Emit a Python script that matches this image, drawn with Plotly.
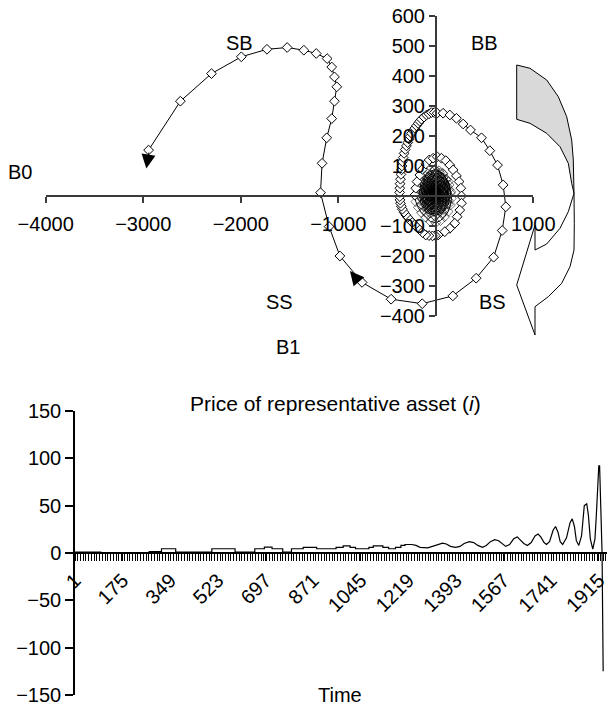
import plotly.graph_objects as go

W, H = 609, 706

# ---------------- phase trajectory: B0 (horizontal) vs B1 (vertical) ----------------
# inner spiral loops (dense core), then the widening loops and the final excursion
B0 = [
    -10, -4, 0, 2, 0, -4, -10, -16, -20, -22, -20, -16,
    -6, 5, 13, 14, 8, -2, -14, -25, -33, -34, -28, -18,
    2, 18, 25, 24, 13, -4, -22, -38, -45, -44, -33, -16,
    -10, 15, 33, 39, 33, 15, -10, -35, -53, -59, -53, -35,
    0, 29, 47, 50, 37, 11, -20, -49, -67, -70, -57, -31,
    15, 46, 62, 59, 37, 2, -35, -66, -82, -79, -57, -22,
    -10, 33, 65, 76, 65, 33, -10, -53, -85, -96, -85, -53,
    7, 53, 82, 86, 65, 23, -27, -73, -102, -106, -85, -43,
    27, 75, 98, 93, 60, 9, -47, -95, -118, -113, -80, -29,
    -10, 52, 97, 113, 97, 52, -10, -72, -117, -133, -117, -72,
    13, 76, 117, 122, 94, 36, -33, -96, -137, -142, -114, -56,
    40, 103, 134, 128, 84, 15, -60, -123, -154, -148, -104, -35,
    -10, 70, 129, 150, 129, 70, -10, -90, -149, -170, -149, -90,
    -10, 34, 75, 109, 137, 154, 161, 151, 127, 92, 48, 0, -55, -103, -147, -181, -205,
    -215, -205, -192, -164, -137, -103, -68, -27, 14, 58, 103, 144, 178, 212, 239, 257,
    264, 264, 246, 219, 195, 144, 92, 24,
    -5, -34, -70, -103, -135, -164, -190, -215, -241, -267, -288, -308, -326, -342,
    -353, -362, -367, -369, -371, -369, -366, -362, -357, -352, -347, -342, -334, -325,
    -313, -301, -288, -274, -262, -249, -232, -215, -198, -181, -164, -147, -121, -95,
    -70, -44, -15, 14, 75, 144, 212, 281, 356, 469, 554,
    633, 691, 718, 681, 593, 414, 175, -139, -458, -756, -983, -1094, -1182, -1166,
    -1118, -1067, -1039, -1015, -1039, -1067, -1114, -1226, -1353, -1524, -1731, -1994,
    -2300, -2619, -2945,
]
B1 = [
    18, 17, 14, 10, 6, 3, 2, 3, 6, 10, 14, 17,
    24, 21, 15, 8, 1, -3, -4, -1, 5, 12, 19, 23,
    29, 23, 13, 3, -5, -10, -9, -3, 7, 17, 25, 30,
    35, 32, 22, 10, -2, -12, -15, -12, -2, 10, 22, 32,
    40, 34, 21, 5, -10, -19, -20, -14, -1, 15, 30, 39,
    45, 34, 16, -3, -19, -26, -25, -14, 4, 23, 38, 46,
    52, 46, 31, 10, -11, -26, -32, -26, -11, 10, 31, 46,
    57, 47, 26, 2, -21, -35, -37, -27, -6, 18, 41, 55,
    61, 45, 19, -8, -32, -43, -41, -25, 1, 28, 52, 63,
    69, 61, 40, 10, -20, -41, -49, -41, -20, 10, 40, 61,
    74, 60, 32, -1, -32, -51, -54, -40, -12, 21, 52, 71,
    77, 55, 22, -14, -45, -60, -57, -35, -2, 34, 65, 80,
    86, 76, 48, 10, -28, -56, -66, -56, -28, 10, 48, 76,
    89, 84, 73, 56, 37, 14, -8, -30, -52, -69, -82, -89, -85, -71, -56, -38, -19,
    3, 26, 48, 70, 89, 107, 120, 126, 131, 126, 118, 103, 87, 67, 48, 26,
    0, -24, -47, -69, -91, -108, -119, -130,
    -132, -133, -132, -130, -122, -113, -105, -97, -88, -80, -71, -63, -54, -44,
    -34, -24, -13, -2, 12, 26, 41, 56, 72, 87, 100, 114, 128, 142,
    155, 167, 178, 189, 199, 209, 218, 226, 234, 242, 249, 256, 263, 270,
    274, 278, 278, 276, 276, 270, 259, 240, 220, 194, 151,
    103, 37, -36, -115, -204, -274, -333, -359, -344, -288, -200, -102, 11, 109,
    194, 258, 316, 364, 397, 430, 458, 475, 486, 495, 489, 464,
    408, 316, 153,
]
CORE_POINTS = 173  # the tightly wound first loops, drawn as overlapping outlines

B0_TICKS = [-4000, -3000, -2000, -1000, 1000]
B1_TICKS = [-400, -300, -200, -100, 100, 200, 300, 400, 500, 600]

# ---------------- price of representative asset ----------------
TIME = [
    1, 95, 95, 272, 272, 317, 317, 369, 369, 501, 501, 586, 586, 658, 658, 693, 693,
    721, 721, 760, 760, 792, 792, 835, 835, 884, 884, 955, 955, 981, 981, 1006, 1006,
    1026, 1026, 1075, 1075, 1091, 1091, 1126, 1126, 1147, 1147, 1172, 1172, 1192, 1192,
    1207, 1207, 1232, 1247, 1262, 1290, 1308, 1328, 1344, 1358, 1373, 1391, 1408, 1423,
    1442, 1458, 1473, 1490, 1504, 1519, 1535, 1549, 1564, 1575, 1589, 1604, 1617, 1629,
    1641, 1654, 1668, 1682, 1693, 1703, 1715, 1724, 1735, 1748, 1757, 1766, 1774, 1783,
    1797, 1810, 1818, 1826, 1833, 1842, 1852, 1862, 1871, 1877, 1884, 1893, 1901, 1906,
    1911, 1915, 1918, 1923, 1927, 1931,
]
PRICE = [
    1, 1, 0, 0, 1.5, 1.5, 4.5, 4.5, 1, 1, 4.5, 4.5, 1, 1, 4.5, 4.5, 6.3,
    6.3, 4.5, 4.5, 1, 1, 4.5, 4.5, 6, 6, 4.5, 4.5, 6, 6, 7.5, 7.5, 6,
    6, 4.5, 4.5, 6, 6, 7.5, 7.5, 6, 6, 4.5, 4.5, 6, 6, 8,
    8, 9, 9, 8, 6, 5.5, 7, 9, 10.5, 9.5, 7, 6, 7, 10,
    12, 11, 8, 6, 8, 12, 14, 13, 9, 7, 9, 15, 17, 14,
    10, 8, 11, 18, 20, 17, 11, 9, 12, 24, 28, 22, 12, 9,
    16, 32, 36, 28, 13, 8, 18, 50, 52, 40, 15, 4, 15, 40,
    65, 92, 92, 42, 0, -125,
]

TIME_TICKS = [1, 175, 349, 523, 697, 871, 1045, 1219, 1393, 1567, 1741, 1915]
PRICE_TICKS = [-150, -100, -50, 0, 50, 100, 150]

FONT = "Liberation Sans, Arial, sans-serif"
AXIS_GREY = "#3a3a3a"


def fx(px):
    return px / W


def fy(py):
    return 1 - py / H


fig = go.Figure()

# tightly wound core: thin outline-only diamonds; outer loops: white-filled diamonds
n_pts = len(B0)
in_core = [i < CORE_POINTS for i in range(n_pts)]
fig.add_trace(go.Scatter(
    x=B0, y=B1, mode="lines+markers",
    line=dict(color="black", width=1),
    marker=dict(
        symbol=["diamond-open" if c else "diamond" for c in in_core],
        size=7.5,
        color=["black" if c else "white" for c in in_core],
        line=dict(color="black", width=[0.55 if c else 1 for c in in_core]),
    ),
    xaxis="x", yaxis="y", showlegend=False, hoverinfo="skip",
))

fig.add_trace(go.Scatter(
    x=TIME, y=PRICE, mode="lines",
    line=dict(color="black", width=1.2),
    xaxis="x2", yaxis="y2", showlegend=False, hoverinfo="skip",
))

axis_font = dict(family=FONT, size=20, color="black")

fig.update_layout(
    width=W, height=H, autosize=False,
    margin=dict(l=0, r=0, t=0, b=0, pad=0, autoexpand=False),
    showlegend=False,
    paper_bgcolor="white", plot_bgcolor="white",
    font=dict(family=FONT, size=20, color="black"),
    xaxis=dict(
        domain=[fx(45.7), fx(533.3)], range=[-4000, 1000],
        anchor="free", position=fy(196), automargin=False,
        tickmode="array", tickvals=B0_TICKS,
        ticks="outside", ticklen=6, tickwidth=1.5, tickcolor=AXIS_GREY,
        showline=True, linecolor=AXIS_GREY, linewidth=2,
        showgrid=False, zeroline=False, tickfont=axis_font,
        ticklabelstandoff=4, ticklabeloverflow="allow",
    ),
    yaxis=dict(
        domain=[fy(316), fy(16)], range=[-400, 600],
        anchor="free", position=fx(436), automargin=False,
        tickmode="array", tickvals=B1_TICKS,
        ticks="outside", ticklen=6, tickwidth=1.5, tickcolor=AXIS_GREY,
        showline=True, linecolor=AXIS_GREY, linewidth=2,
        showgrid=False, zeroline=False, tickfont=axis_font,
        ticklabeloverflow="allow",
    ),
    xaxis2=dict(
        domain=[fx(75), fx(607)], range=[1, 1945],
        anchor="free", position=fy(553), automargin=False,
        tickmode="array", tickvals=TIME_TICKS, tickangle=-45,
        ticks="outside", ticklen=7, tickwidth=1, tickcolor="black",
        minor=dict(tickmode="linear", tick0=1, dtick=10, ticks="outside",
                   ticklen=7, tickwidth=1, tickcolor="black"),
        showline=True, linecolor="black", linewidth=1.5,
        showgrid=False, zeroline=False, tickfont=axis_font,
        ticklabeloverflow="allow",
    ),
    yaxis2=dict(
        domain=[fy(695), fy(411)], range=[-150, 150],
        anchor="x2", side="left", automargin=False,
        tickmode="array", tickvals=PRICE_TICKS,
        ticks="outside", ticklen=8, tickwidth=1.5, tickcolor="black",
        showline=True, linecolor="black", linewidth=1.5,
        showgrid=False, zeroline=False, tickfont=axis_font,
        ticklabeloverflow="allow",
    ),
)

# Quadrant and axis labels of the phase diagram
labels = [("SB", 239, 43), ("BB", 484, 43), ("B0", 19.5, 172),
          ("SS", 279, 302), ("BS", 492, 302), ("B1", 288, 347)]
for text, px, py in labels:
    fig.add_annotation(text=text, x=fx(px), y=fy(py), xref="paper", yref="paper",
                       showarrow=False, font=dict(family=FONT, size=20),
                       xanchor="center", yanchor="middle")

fig.add_annotation(text="Price of representative asset (<i>i</i>)",
                   x=fx(335), y=fy(403), xref="paper", yref="paper",
                   showarrow=False, font=dict(family=FONT, size=21),
                   xanchor="center", yanchor="middle")
fig.add_annotation(text="Time", x=fx(340), y=fy(695), xref="paper", yref="paper",
                   showarrow=False, font=dict(family=FONT, size=20),
                   xanchor="center", yanchor="middle")

# Direction arrows along the trajectory
for (tx, ty), (hx, hy) in [((-2940, 150), (-2968, 92)), ((-790, -285), (-880, -250))]:
    fig.add_annotation(x=hx, y=hy, ax=tx, ay=ty, xref="x", yref="y",
                       axref="x", ayref="y", text="", showarrow=True,
                       arrowhead=2, arrowsize=2.8, arrowwidth=1, arrowcolor="black",
                       standoff=0, startstandoff=0)


def path(points):
    d = "M " + " L ".join(f"{fx(x):.5f},{fy(y):.5f}" for x, y in points)
    return d + " Z"


# Curved arrow drawn beside the phase diagram (shaded back face + white front face)
back_face = [(516.7, 65), (530, 68.3), (546.7, 80), (558.3, 96.7), (566.7, 116.7),
             (571.7, 140), (573.3, 160), (574, 193.3), (571.7, 183.3), (568.3, 163.3),
             (560, 146.7), (546.7, 133.3), (530, 123.3), (516.7, 119.3)]
front_face = [(574, 193.3), (574.3, 223.3), (574, 250), (570, 266.7), (561.7, 283.3),
              (548.3, 296.7), (535, 306.7), (535, 335), (516.7, 285), (535, 225),
              (535, 250), (546.7, 244), (560, 228.3), (568.3, 211.7)]
fig.add_shape(type="path", path=path(back_face), xref="paper", yref="paper",
              fillcolor="#d9d9d9", line=dict(color="black", width=1), layer="above")
fig.add_shape(type="path", path=path(front_face), xref="paper", yref="paper",
              fillcolor="white", line=dict(color="black", width=1), layer="above")

fig.write_html("out.html")
